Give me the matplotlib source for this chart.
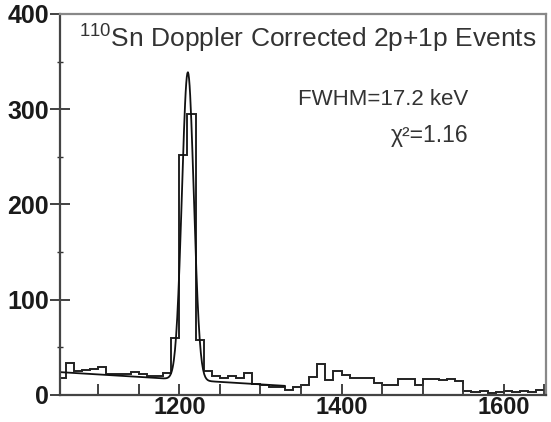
import numpy as np
import matplotlib.pyplot as plt
from matplotlib.ticker import MultipleLocator

plt.rcParams['font.family'] = ['Liberation Sans', 'DejaVu Sans']

# 10 keV bins, lower edges
bin_lo = np.arange(1050, 1650, 10)
counts = [18, 34, 25, 26, 27, 29, 22, 22, 22, 24,
          22, 20, 20, 23, 60, 252, 295, 58, 25, 20,
          18, 20, 18, 23, 12, 10, 8, 8, 5, 8,
          10, 19, 33, 16, 25, 21, 18, 18, 18, 13,
          10, 10, 17, 17, 10, 17, 17, 16, 17, 15,
          4, 3, 4, 2, 3, 4, 3, 4, 3, 5]

# fit: gaussian + linear background
peak_amp = 323.0
peak_mean = 1210.5
peak_fwhm = 17.2
bg_at_start = 24.0
bg_slope = -0.052
fit_lo, fit_hi = 1053, 1330

fig = plt.figure(figsize=(5.51, 4.22), dpi=100)
ax = fig.add_axes([0.109, 0.064, 0.882, 0.903])

edges = np.append(bin_lo, bin_lo[-1] + 10)
ax.stairs(counts, edges, color='#222222', lw=1.4, baseline=None)

e = np.linspace(fit_lo, fit_hi, 400)
sig = peak_fwhm / 2.3548
fit = peak_amp * np.exp(-0.5 * ((e - peak_mean) / sig) ** 2) + bg_at_start + bg_slope * (e - fit_lo)
ax.plot(e, fit, color='#111111', lw=1.3)

ax.set_xlim(1053, 1652)
ax.set_ylim(0, 400)

ax.xaxis.set_major_locator(MultipleLocator(200))
ax.xaxis.set_minor_locator(MultipleLocator(50))
ax.yaxis.set_major_locator(MultipleLocator(100))
ax.yaxis.set_minor_locator(MultipleLocator(50))

ax.tick_params(axis='x', which='both', direction='in', length=8, width=1.3,
               color='#333333', top=False, labelsize=17, pad=1)
ax.tick_params(axis='y', which='major', direction='inout', length=14, width=1.3,
               color='#333333', right=False, labelsize=18, pad=1)
ax.tick_params(axis='y', which='minor', direction='inout', length=5, width=1.0,
               color='#333333', right=False)
for lab in ax.get_xticklabels() + ax.get_yticklabels():
    lab.set_fontweight('bold')
    lab.set_color('#1a1a1a')

for s in ['left', 'bottom']:
    ax.spines[s].set_color('#444444')
    ax.spines[s].set_linewidth(1.6)
for s in ['top', 'right']:
    ax.spines[s].set_color('#888888')
    ax.spines[s].set_linewidth(1.6)

ax.text(0.04, 0.915, r'$^{\mathregular{110}}$Sn Doppler Corrected 2p+1p Events',
        transform=ax.transAxes, fontsize=19, color='#333333', ha='left', va='baseline')
ax.text(0.84, 0.76, 'FWHM=17.2 keV', transform=ax.transAxes,
        fontsize=16, color='#333333', ha='right', va='baseline')
ax.text(0.84, 0.665, 'χ²=1.16', transform=ax.transAxes,
        fontsize=16.5, color='#333333', ha='right', va='baseline')

fig.savefig('out.png', dpi=100)
